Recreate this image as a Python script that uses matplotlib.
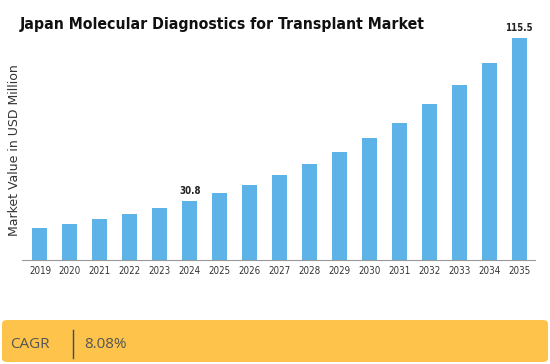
import matplotlib.pyplot as plt
from matplotlib.patches import FancyBboxPatch

years = [str(y) for y in range(2019, 2036)]
values = [16.6, 18.7, 21.3, 23.9, 27.1, 30.8, 34.9, 39.0, 44.2, 50.0,
          56.2, 63.5, 71.3, 81.2, 91.0, 102.5, 115.5]
labelled = {"2024": "30.8", "2035": "115.5"}
title = "Japan Molecular Diagnostics for Transplant Market"
ylabel = "Market Value in USD Million"
cagr = "8.08%"

bar_color = "#5DB3E8"
band_color = "#FDC34A"

fig = plt.figure(figsize=(5.5, 3.64), dpi=100)

ax = fig.add_axes([22 / 550, 1 - 260 / 364, 513 / 550, 230 / 364])
x = list(range(len(years)))
ax.bar(x, values, width=0.5, color=bar_color)
ax.set_xlim(-0.6, 16.53)
ax.set_ylim(0, 115.5 * 230 / 222)
ax.set_xticks(x)
ax.set_xticklabels(years, fontsize=7, fontstretch="condensed", color="#333333")
ax.set_yticks([])
ax.tick_params(axis="x", length=0, pad=4)
for s in ["top", "right", "left"]:
    ax.spines[s].set_visible(False)
ax.spines["bottom"].set_color("#999999")
ax.spines["bottom"].set_linewidth(0.8)

for i, yr in enumerate(years):
    if yr in labelled:
        ax.text(i, values[i] + 2.5, labelled[yr], ha="center", va="bottom",
                fontsize=7, fontweight="bold", fontstretch="condensed", color="#222222")

fig.text(15 / 550, 1 - 150 / 364, ylabel, rotation=90, ha="center", va="center",
         fontsize=9, color="#333333")
fig.text(20 / 550, 1 - 25 / 364, title, ha="left", va="center", fontsize=11.3,
         fontweight="bold", fontstretch="condensed", color="#111111")

# CAGR band
band = FancyBboxPatch((2 / 550, 2 / 364), 546 / 550, 42 / 364,
                      boxstyle="round,pad=0,rounding_size=0.01",
                      transform=fig.transFigure, facecolor=band_color,
                      edgecolor="none")
fig.add_artist(band)
fig.text(10 / 550, 1 - 344 / 364, "CAGR", ha="left", va="center", fontsize=11,
         family="Open Sans", color="#555555")
fig.add_artist(plt.Line2D([73 / 550, 73 / 550], [1 - 330 / 364, 1 - 358 / 364],
                          transform=fig.transFigure, color="#2B4C7E", linewidth=1))
fig.text(84 / 550, 1 - 344 / 364, cagr, ha="left", va="center", fontsize=11,
         family="Open Sans", color="#555555")

fig.savefig("out.png", dpi=100)
